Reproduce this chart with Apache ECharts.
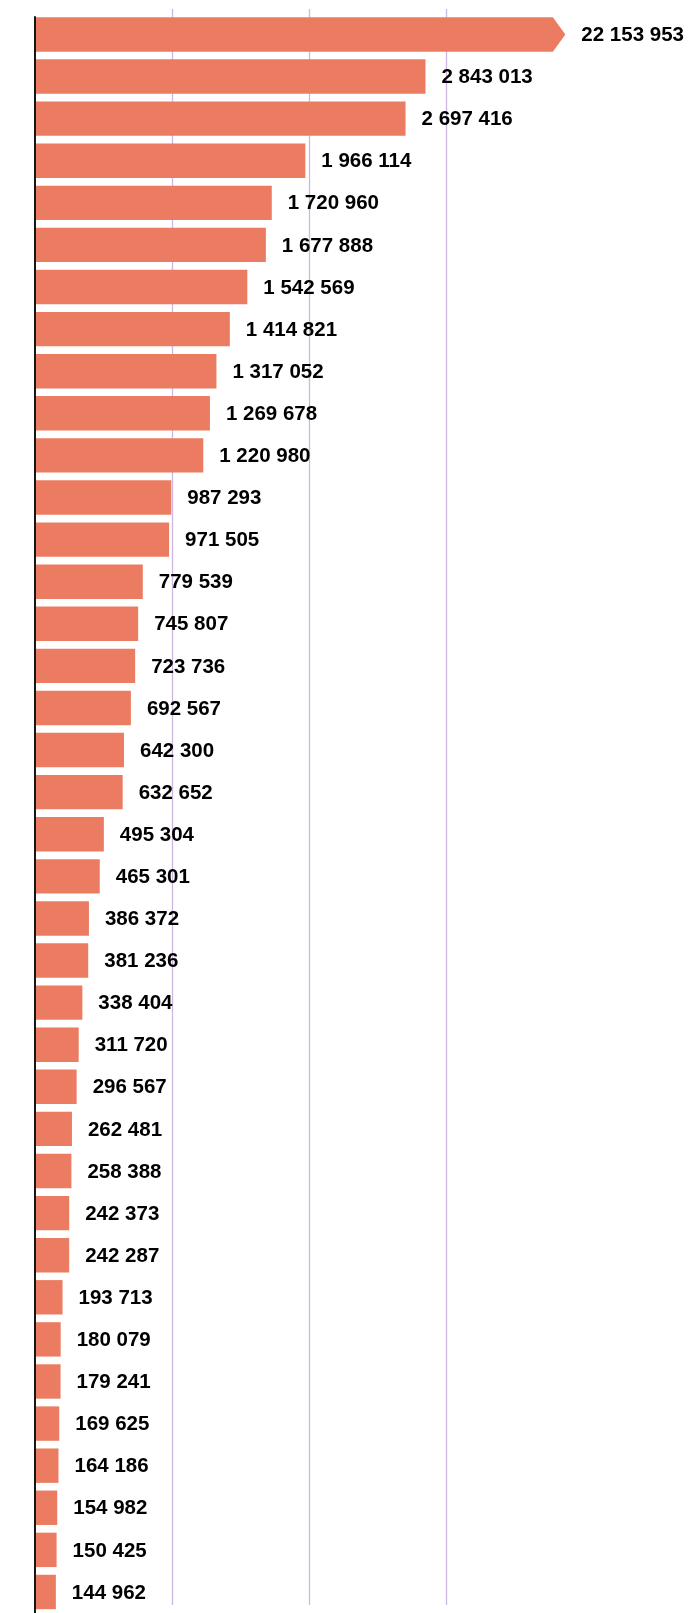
<!DOCTYPE html>
<html>
<head>
<meta charset="utf-8">
<script src="https://cdn.jsdelivr.net/npm/echarts@6/dist/echarts.min.js"></script>
<style>
html,body{margin:0;padding:0;background:#fff;}
#chart{width:690px;height:1613px;}
</style>
</head>
<body>
<div id="chart"></div>
<script>
// ---- data ----
const categories = ["1","2","3","4","5","6","7","8","9","10","11","12","13","14","15","16","17","18","19","20","21","22","23","24","25","26","27","28","29","30","31","32","33","34","35","36","37","38"];
const values = [22153953, 2843013, 2697416, 1966114, 1720960, 1677888, 1542569, 1414821, 1317052, 1269678, 1220980, 987293, 971505, 779539, 745807, 723736, 692567, 642300, 632652, 495304, 465301, 386372, 381236, 338404, 311720, 296567, 262481, 258388, 242373, 242287, 193713, 180079, 179241, 169625, 164186, 154982, 150425, 144962];
const xTicks = [0, 1000000, 2000000, 3000000, 4000000];

// ---- display settings ----
const CAP = 3780000;          // bars longer than this are drawn broken with an arrow
const X_MAX = xTicks[xTicks.length - 1];
const BAR_COLOR = '#EC7C61';
const GRID_COLOR = '#CDB6E3';

function fmt(v) {
  return String(v).replace(/\B(?=(\d{3})+(?!\d))/g, ' ');
}

const chart = echarts.init(document.getElementById('chart'), null, {renderer: 'canvas'});

const option = {
  animation: false,
  backgroundColor: '#fff',
  grid: [
    {left: 35, width: 548, top: 13.4, height: 1606},   // bars
    {left: 35, width: 548, top: 9, height: 1596},      // vertical grid lines
    {left: 35, width: 548, top: 17, height: 1620}      // y axis line
  ],
  xAxis: [
    {gridIndex: 0, type: 'value', min: 0, max: X_MAX, interval: 1000000, show: false},
    {gridIndex: 1, type: 'value', min: 0, max: X_MAX, interval: 1000000,
     axisLine: {show: false}, axisTick: {show: false}, axisLabel: {show: false},
     splitLine: {show: true, showMinLine: false, showMaxLine: false,
                 lineStyle: {color: GRID_COLOR, width: 1.3}}},
    {gridIndex: 2, type: 'value', min: 0, max: X_MAX, show: false}
  ],
  yAxis: [
    {gridIndex: 0, type: 'category', data: categories, inverse: true, show: false},
    {gridIndex: 1, type: 'value', min: 0, max: 1, show: false},
    {gridIndex: 2, type: 'value', min: 0, max: 1, z: 10,
     axisLine: {show: true, onZero: false, lineStyle: {color: '#161616', width: 2}},
     axisTick: {show: false}, axisLabel: {show: false}, splitLine: {show: false}}
  ],
  series: [
    {
      type: 'custom',
      xAxisIndex: 0,
      yAxisIndex: 0,
      encode: {x: 0, y: 1},
      data: values.map((v, i) => [v, i]),
      renderItem: function (params, api) {
        const v = api.value(0);
        const idx = api.value(1);
        const shown = Math.min(v, CAP);
        const s = api.coord([0, idx]);
        const e = api.coord([shown, idx]);
        const h = 34.4;
        const top = s[1] - h / 2, bot = s[1] + h / 2;
        const children = [];
        let labelX;
        if (v > CAP) {
          const tip = 12.5;
          children.push({
            type: 'polygon',
            shape: {points: [[s[0], top], [e[0], top], [e[0] + tip, s[1]], [e[0], bot], [s[0], bot]]},
            style: {fill: BAR_COLOR}
          });
          labelX = e[0] + tip + 16;
        } else {
          children.push({
            type: 'rect',
            shape: {x: s[0], y: top, width: e[0] - s[0] + 1, height: h},
            style: {fill: BAR_COLOR}
          });
          labelX = e[0] + 17;
        }
        children.push({
          type: 'text',
          x: labelX,
          y: s[1] + 1,
          style: {
            text: fmt(v),
            fill: '#000',
            font: 'bold 20.5px "Liberation Sans", Arial, sans-serif',
            verticalAlign: 'middle',
            align: 'left'
          }
        });
        return {type: 'group', children: children};
      }
    }
  ]
};

chart.setOption(option);
</script>
</body>
</html>
